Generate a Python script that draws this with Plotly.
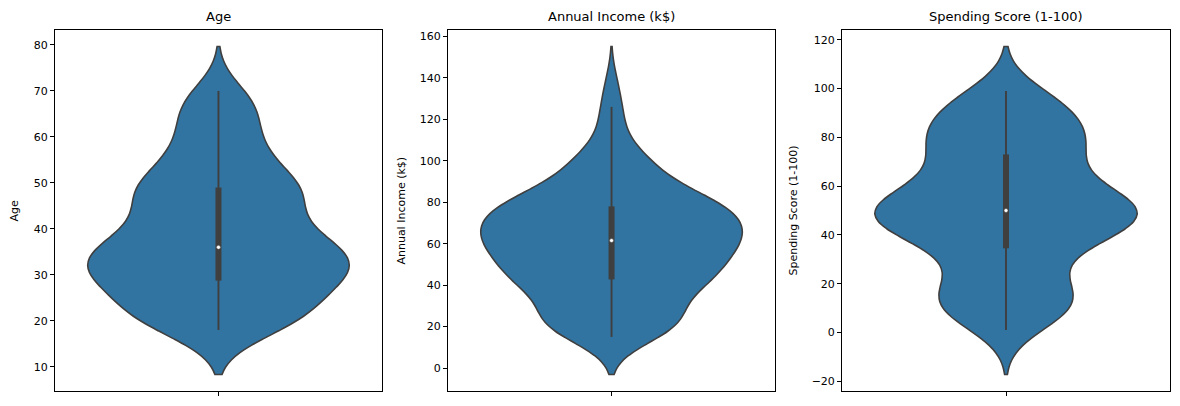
import numpy as np
import plotly.graph_objects as go

# ---------------- data (value / count tables, 200 customers) ----------------
age_values = [18, 19, 20, 21, 22, 23, 24, 25, 26, 27, 28, 29, 30, 31, 32, 33, 34, 35, 36, 37,
              38, 39, 40, 41, 42, 43, 44, 45, 46, 47, 48, 49, 50, 51, 52, 53, 54, 55, 56, 57,
              58, 59, 60, 63, 64, 65, 66, 67, 68, 69, 70]
age_counts = [4, 8, 5, 5, 3, 6, 4, 3, 2, 6, 4, 5, 7, 8, 11, 3, 5, 9, 6, 3,
              6, 3, 6, 2, 2, 3, 2, 3, 3, 6, 5, 7, 5, 2, 2, 2, 4, 1, 1, 2,
              2, 4, 3, 2, 1, 2, 2, 4, 3, 1, 2]

income_values = [15, 16, 17, 18, 19, 20, 21, 23, 24, 25, 28, 29, 30, 33, 37, 38, 39, 40, 42, 43,
                 44, 46, 47, 48, 49, 50, 54, 57, 58, 59, 60, 61, 62, 63, 64, 65, 67, 69, 70, 71,
                 72, 73, 74, 75, 76, 77, 78, 79, 81, 85, 86, 87, 88, 93, 97, 98, 99, 101, 103, 113,
                 120, 126, 137]
income_counts = [2, 2, 2, 2, 4, 4, 2, 2, 2, 2, 4, 2, 2, 4, 2, 2, 4, 4, 2, 6,
                 2, 4, 2, 6, 2, 2, 12, 2, 2, 2, 6, 2, 6, 6, 2, 4, 4, 2, 2, 6,
                 2, 4, 2, 2, 2, 4, 12, 2, 2, 2, 2, 6, 4, 2, 2, 2, 2, 2, 4, 2,
                 2, 2, 2]

spending_values = [1, 3, 4, 5, 6, 7, 8, 9, 10, 11, 12, 13, 14, 15, 16, 17, 18, 20,
                   22, 23, 24, 25, 26, 27, 28, 29, 31, 32, 34,
                   35, 36, 37, 38, 39, 40, 41, 42, 43, 44, 45, 46, 47, 48, 49, 50,
                   51, 52, 53, 54, 55, 56, 57, 58, 59, 60, 61, 62, 63, 64, 65, 66, 67, 68, 69, 70,
                   71, 72, 73,
                   74, 75, 76, 77, 78, 79, 80, 81, 82, 83, 84, 85, 86, 87, 88, 89, 90, 91, 92, 93,
                   94, 95, 96, 97, 98, 99]
spending_counts = [1, 1, 2, 2, 2, 2, 2, 1, 2, 2, 2, 3, 2, 3, 2, 3, 2, 2,
                   1, 1, 1, 1, 1, 1, 1, 2, 1, 1, 3,
                   2, 3, 1, 1, 1, 2, 3, 6, 4, 3, 3, 4, 4, 4, 4, 6,
                   4, 4, 2, 3, 4, 3, 3, 3, 3, 2, 1, 1, 1, 1, 1, 2, 1, 2, 1, 1,
                   2, 1, 3,
                   2, 2, 3, 2, 2, 3, 1, 2, 2, 2, 1, 2, 2, 2, 2, 2, 2, 2, 1, 2,
                   1, 2, 1, 2, 2, 2]

titles = ["Age", "Annual Income (k$)", "Spending Score (1-100)"]
dticks = [10, 20, 20]

# ---------------- style ----------------
FILL = "#3274a1"
GRAY = "#3f3f3f"
FONT = "DejaVu Sans"
x_domains = [(0.0466, 0.3237), (0.3797, 0.6568), (0.7136, 0.9915)]
y_domain = (0.037, 0.926)
title_shift = [-40, -47, -49]

series = [
    np.repeat(age_values, age_counts).astype(float),
    np.repeat(income_values, income_counts).astype(float),
    np.repeat(spending_values, spending_counts).astype(float),
]

fig = go.Figure()
annotations = []
for i, (d, title) in enumerate(zip(series, titles)):
    k = i + 1
    xa = "x" if k == 1 else f"x{k}"
    ya = "y" if k == 1 else f"y{k}"
    n = len(d)
    bw = d.std(ddof=1) * n ** (-1 / 5)  # Scott's rule
    lo, hi = d.min() - 2 * bw, d.max() + 2 * bw
    pad = 0.05 * (hi - lo)

    fig.add_trace(go.Violin(
        y=d, x0=0, xaxis=xa, yaxis=ya, width=0.8, bandwidth=bw,
        spanmode="soft", side="both", points=False,
        fillcolor=FILL, opacity=1, line=dict(color=GRAY, width=1.6),
        box=dict(visible=False), meanline=dict(visible=False),
        showlegend=False, hoverinfo="skip", name=title,
    ))

    q1, q2, q3 = np.percentile(d, [25, 50, 75])
    iqr = q3 - q1
    w_lo = d[d >= q1 - 1.5 * iqr].min()
    w_hi = d[d <= q3 + 1.5 * iqr].max()
    fig.add_trace(go.Scatter(x=[0, 0], y=[w_lo, w_hi], mode="lines", xaxis=xa, yaxis=ya,
                             line=dict(color=GRAY, width=1.9), showlegend=False, hoverinfo="skip"))
    fig.add_trace(go.Scatter(x=[0, 0], y=[q1, q3], mode="lines", xaxis=xa, yaxis=ya,
                             line=dict(color=GRAY, width=6), showlegend=False, hoverinfo="skip"))
    fig.add_trace(go.Scatter(x=[0], y=[q2], mode="markers", xaxis=xa, yaxis=ya,
                             marker=dict(color="white", size=4, line=dict(color=GRAY, width=0.5)),
                             showlegend=False, hoverinfo="skip"))

    common = dict(showline=True, mirror=True, linecolor="black", linewidth=1,
                  ticks="outside", ticklen=4, tickwidth=1, tickcolor="black",
                  showgrid=False, zeroline=False, fixedrange=True,
                  tickfont=dict(family=FONT, size=11, color="black"))
    fig.layout[f"xaxis{'' if k == 1 else k}"] = dict(
        domain=list(x_domains[i]), range=[-0.5, 0.5], type="linear",
        tickvals=[0], ticktext=[""], anchor=ya, **common)
    fig.layout[f"yaxis{'' if k == 1 else k}"] = dict(
        domain=list(y_domain), range=[lo - pad, hi + pad], dtick=dticks[i],
        anchor=xa, **common)

    annotations.append(dict(text=title, xref="paper", yref="paper",
                            x=(x_domains[i][0] + x_domains[i][1]) / 2, y=y_domain[1],
                            xanchor="center", yanchor="bottom", yshift=4, showarrow=False,
                            font=dict(family=FONT, size=13, color="black")))
    annotations.append(dict(text=title, xref="paper", yref="paper",
                            x=x_domains[i][0], y=(y_domain[0] + y_domain[1]) / 2,
                            xanchor="center", yanchor="middle", xshift=title_shift[i],
                            textangle=-90, showarrow=False,
                            font=dict(family=FONT, size=11, color="black")))

fig.update_layout(width=1180, height=406, margin=dict(l=0, r=0, t=0, b=0),
                  paper_bgcolor="white", plot_bgcolor="white",
                  font=dict(family=FONT), annotations=annotations)

fig.write_html("out.html")
